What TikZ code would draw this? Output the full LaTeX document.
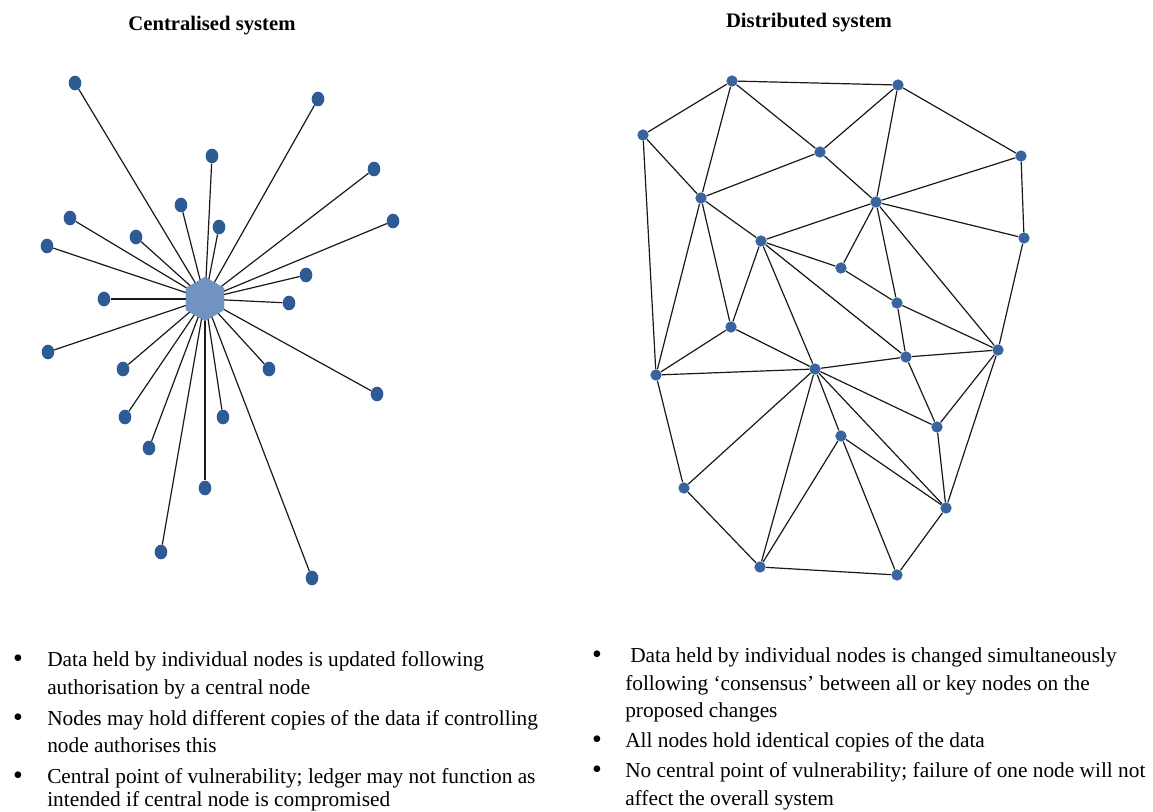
\documentclass[tikz,border=0pt]{standalone}
\usepackage{fontspec}
\setmainfont{Liberation Serif}
\usepackage{tikz}
\usetikzlibrary{shapes.geometric}

\definecolor{hubblue}{HTML}{7093C2}
\definecolor{leafblue}{HTML}{2E5B96}
\definecolor{peerblue}{HTML}{3A64A0}

\begin{document}
\begin{tikzpicture}[
  x=0.75pt, y=-0.75pt,
  hub/.style={regular polygon, regular polygon sides=6, shape border rotate=30, fill=hubblue, inner sep=0pt, minimum size=33pt},
  leaf/.style={ellipse, fill=leafblue, inner sep=0pt, minimum width=9.5pt, minimum height=11pt},
  peer/.style={circle, fill=peerblue, inner sep=0pt, minimum size=8.5pt},
  edge/.style={line width=0.9pt, black!90},
  title/.style={font=\fontsize{15.5}{18}\selectfont\bfseries, anchor=base, inner sep=0pt},
  txt/.style={font=\fontsize{16}{20}\selectfont, anchor=base west, inner sep=0pt},
  dot/.style={font=\fontsize{21}{24}\selectfont, anchor=base, inner sep=0pt}
]
\path[use as bounding box, clip] (0,0) rectangle (1153,811);

% titles
\node[title] (tcen) at (212,30) {Centralised system};
\node[title] (tdis) at (809,27) {Distributed system};

% centralised system
\node[hub] (hub) at (205,299) {};
\node[leaf] (l1) at (75,83) {};
\node[leaf] (l2) at (318,99) {};
\node[leaf] (l3) at (212,156) {};
\node[leaf] (l4) at (374,169) {};
\node[leaf] (l5) at (181,205) {};
\node[leaf] (l6) at (70,218) {};
\node[leaf] (l7) at (219,227) {};
\node[leaf] (l8) at (136,237) {};
\node[leaf] (l9) at (47,246) {};
\node[leaf] (l10) at (393,221) {};
\node[leaf] (l11) at (306,275) {};
\node[leaf] (l12) at (104,299) {};
\node[leaf] (l13) at (289,303) {};
\node[leaf] (l14) at (48,352) {};
\node[leaf] (l15) at (123,369) {};
\node[leaf] (l16) at (269,369) {};
\node[leaf] (l17) at (377,394) {};
\node[leaf] (l18) at (125,417) {};
\node[leaf] (l19) at (223,417) {};
\node[leaf] (l20) at (149,448) {};
\node[leaf] (l21) at (205,488) {};
\node[leaf] (l22) at (161,552) {};
\node[leaf] (l23) at (312,578) {};

\foreach \i in {1,...,23}
  \draw[edge] (hub.center) -- (l\i);
\node[hub] at (hub) {};

% distributed system
\node[peer] (d1) at (732,81) {};
\node[peer] (d2) at (898,85) {};
\node[peer] (d3) at (643,135) {};
\node[peer] (d4) at (820,152) {};
\node[peer] (d5) at (1021,156) {};
\node[peer] (d6) at (701,198) {};
\node[peer] (d7) at (876,202) {};
\node[peer] (d8) at (1024,238) {};
\node[peer] (d9) at (761,241) {};
\node[peer] (d10) at (841,268) {};
\node[peer] (d11) at (897,303) {};
\node[peer] (d12) at (731,327) {};
\node[peer] (d13) at (998,350) {};
\node[peer] (d14) at (906,357) {};
\node[peer] (d15) at (656,375) {};
\node[peer] (d16) at (815,369) {};
\node[peer] (d17) at (937,427) {};
\node[peer] (d18) at (841,436) {};
\node[peer] (d19) at (684,488) {};
\node[peer] (d20) at (946,508) {};
\node[peer] (d21) at (760,567) {};
\node[peer] (d22) at (897,575) {};

\draw[edge] (d1) -- (d2); \draw[edge] (d1) -- (d3); \draw[edge] (d1) -- (d6); \draw[edge] (d1) -- (d4);
\draw[edge] (d2) -- (d4); \draw[edge] (d2) -- (d7); \draw[edge] (d2) -- (d5);
\draw[edge] (d3) -- (d6); \draw[edge] (d3) -- (d15);
\draw[edge] (d6) -- (d4); \draw[edge] (d4) -- (d7); \draw[edge] (d7) -- (d5);
\draw[edge] (d5) -- (d8); \draw[edge] (d7) -- (d8);
\draw[edge] (d6) -- (d9); \draw[edge] (d6) -- (d12); \draw[edge] (d6) -- (d15);
\draw[edge] (d9) -- (d7); \draw[edge] (d9) -- (d10); \draw[edge] (d9) -- (d12);
\draw[edge] (d9) -- (d16); \draw[edge] (d9) -- (d14);
\draw[edge] (d7) -- (d10); \draw[edge] (d7) -- (d11); \draw[edge] (d7) -- (d13);
\draw[edge] (d10) -- (d11); \draw[edge] (d11) -- (d13); \draw[edge] (d11) -- (d14);
\draw[edge] (d8) -- (d13);
\draw[edge] (d15) -- (d12); \draw[edge] (d12) -- (d16); \draw[edge] (d15) -- (d16);
\draw[edge] (d14) -- (d16); \draw[edge] (d14) -- (d13); \draw[edge] (d14) -- (d17);
\draw[edge] (d13) -- (d17); \draw[edge] (d13) -- (d20);
\draw[edge] (d16) -- (d17); \draw[edge] (d16) -- (d18); \draw[edge] (d16) -- (d20);
\draw[edge] (d16) -- (d19); \draw[edge] (d16) -- (d21);
\draw[edge] (d18) -- (d20); \draw[edge] (d18) -- (d21); \draw[edge] (d18) -- (d22);
\draw[edge] (d20) -- (d22); \draw[edge] (d19) -- (d21); \draw[edge] (d21) -- (d22);
\draw[edge] (d15) -- (d19); \draw[edge] (d17) -- (d20);

% bullet points, centralised
\node[dot] (bc1) at (18,667) {\textbullet};
\node[txt] (c1a) at (47,666) {Data held by individual nodes is updated following};
\node[txt] (c1b) at (47,694) {authorisation by a central node};
\node[dot] (bc2) at (18,726) {\textbullet};
\node[txt] (c2a) at (47,725) {Nodes may hold different copies of the data if controlling};
\node[txt] (c2b) at (47,752) {node authorises this};
\node[dot] (bc3) at (18,784) {\textbullet};
\node[txt] (c3a) at (47,783) {Central point of vulnerability; ledger may not function as};
\node[txt] (c3b) at (47,806) {intended if central node is compromised};

% bullet points, distributed
\node[dot] (bd1) at (597,663) {\textbullet};
\node[txt] (d1a) at (630,662) {Data held by individual nodes is changed simultaneously};
\node[txt] (d1b) at (625,690) {following ‘consensus’ between all or key nodes on the};
\node[txt] (d1c) at (625,717) {proposed changes};
\node[dot] (bd2) at (597,748) {\textbullet};
\node[txt] (d2a) at (625,747) {All nodes hold identical copies of the data};
\node[dot] (bd3) at (597,778) {\textbullet};
\node[txt] (d3a) at (625,777) {No central point of vulnerability; failure of one node will not};
\node[txt] (d3b) at (625,805) {affect the overall system};
\end{tikzpicture}
\end{document}
